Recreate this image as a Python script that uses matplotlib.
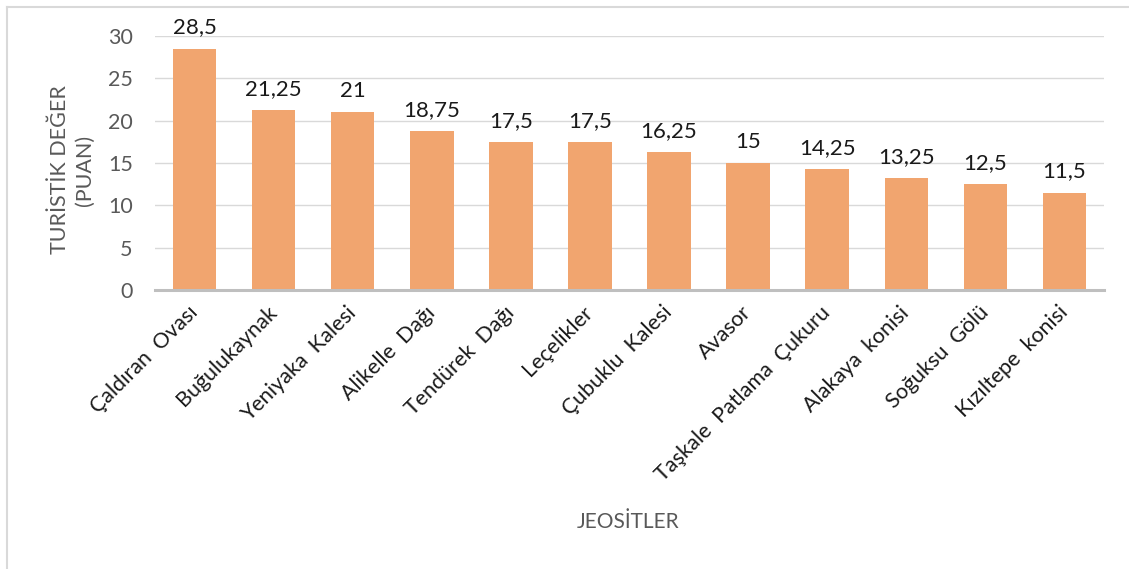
import matplotlib.pyplot as plt
from matplotlib.lines import Line2D

plt.rcParams['font.family'] = ['Lato', 'DejaVu Sans']

# jeosit adları ve turistik değer puanları
jeositler = ["Çaldıran  Ovası", "Buğulukaynak", "Yeniyaka  Kalesi", "Alikelle  Dağı",
             "Tendürek  Dağı", "Leçelikler", "Çubuklu  Kalesi", "Avasor",
             "Taşkale  Patlama  Çukuru", "Alakaya  konisi", "Soğuksu  Gölü", "Kızıltepe  konisi"]
puanlar = [28.5, 21.25, 21, 18.75, 17.5, 17.5, 16.25, 15, 14.25, 13.25, 12.5, 11.5]
y_ticks = [0, 5, 10, 15, 20, 25, 30]

fig = plt.figure(figsize=(11.29, 5.69), dpi=100)
ax = fig.add_axes([155 / 1129, 1 - 290 / 569, 949 / 1129, 254 / 569])

x = range(len(jeositler))
bars = ax.bar(x, puanlar, width=0.55, color='#F1A56F', zorder=3)

# değer etiketleri (virgüllü ondalık)
for xi, v in zip(x, puanlar):
    txt = f"{v:g}".replace('.', ',')
    ax.annotate(txt, (xi, v), xytext=(0, 8), textcoords='offset points',
                ha='center', va='bottom', fontsize=16, color='#1a1a1a')

ax.set_xlim(-0.5, len(jeositler) - 0.5)
ax.set_ylim(0, 30)
ax.set_yticks(y_ticks)
ax.set_yticklabels([str(t) for t in y_ticks], fontsize=15.5, color='#595959')
ax.set_xticks(list(x))
ax.set_xticklabels(jeositler, rotation=45, ha='right', va='center',
                   rotation_mode='anchor', fontsize=15.5, color='#1a1a1a')
ax.tick_params(axis='both', length=0)
ax.tick_params(axis='x', pad=14)
ax.tick_params(axis='y', pad=16)

ax.grid(axis='y', color='#D9D9D9', linewidth=1, zorder=0)
for s in ['top', 'right', 'left']:
    ax.spines[s].set_visible(False)
ax.spines['bottom'].set_color('#BFBFBF')
ax.spines['bottom'].set_linewidth(2.2)
ax.spines['bottom'].set_zorder(4)

fig.text(72 / 1129, 1 - 170 / 569, "TURİSTİK DEĞER\n(PUAN)", rotation=90,
         ha='center', va='center', fontsize=15.5, color='#595959',
         multialignment='center', linespacing=1.3)
fig.text(628 / 1129, 1 - 522 / 569, "JEOSİTLER", ha='center', va='center',
         fontsize=15, color='#595959')

# grafik çerçevesi (sol ve üst kenar)
fig.add_artist(Line2D([7 / 1129, 7 / 1129], [0, 1 - 7 / 569], transform=fig.transFigure,
                      color='#D9D9D9', linewidth=1.5))
fig.add_artist(Line2D([7 / 1129, 1], [1 - 7 / 569, 1 - 7 / 569], transform=fig.transFigure,
                      color='#D9D9D9', linewidth=1.5))

fig.savefig('out.png', dpi=100)
